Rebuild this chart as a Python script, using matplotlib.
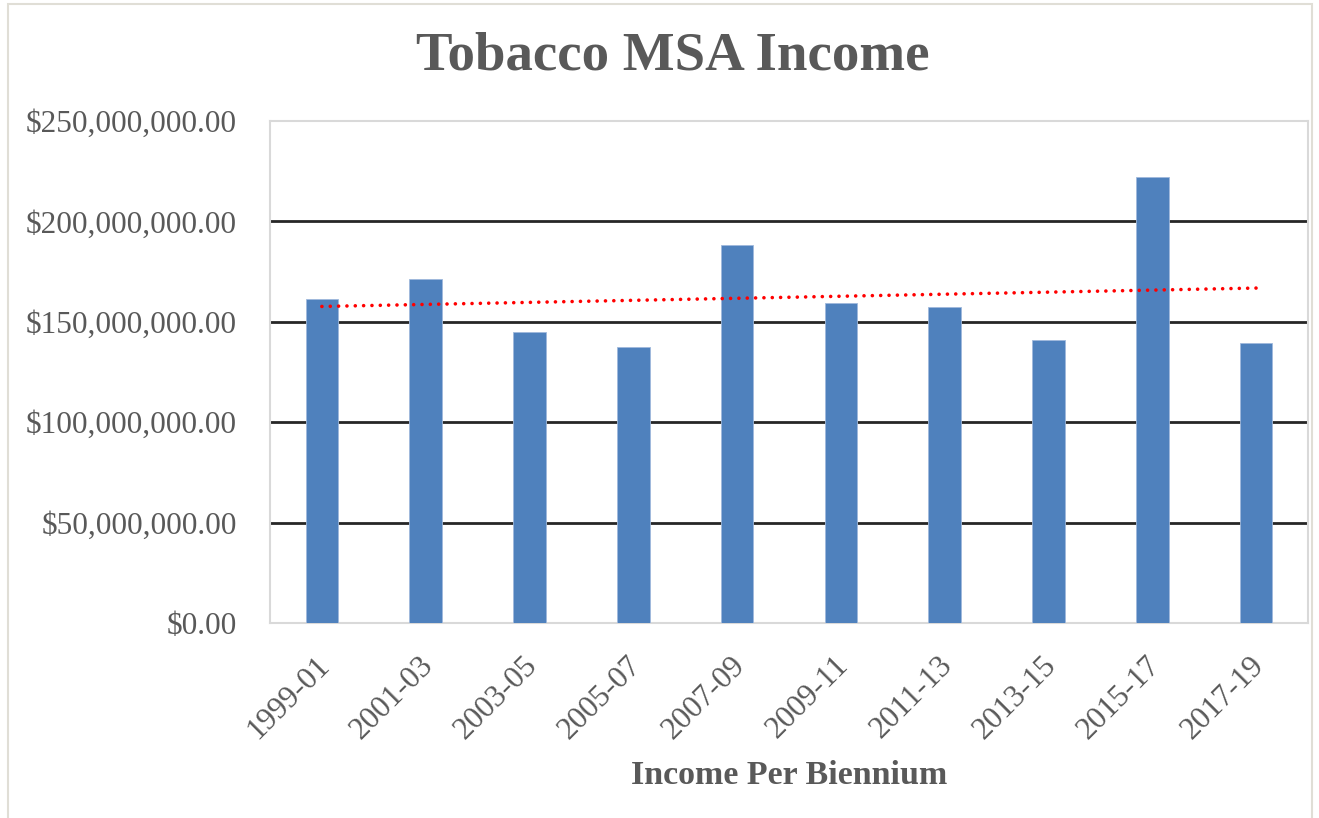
import matplotlib.pyplot as plt
import matplotlib.patches as mpatches
import matplotlib.transforms as mtransforms
import numpy as np

biennia = ["1999-01", "2001-03", "2003-05", "2005-07", "2007-09",
           "2009-11", "2011-13", "2013-15", "2015-17", "2017-19"]
income = [161.4e6, 171.3e6, 144.9e6, 137.3e6, 188.2e6,
          159.4e6, 157.5e6, 140.8e6, 222.1e6, 139.3e6]
y_ticks = [0, 50e6, 100e6, 150e6, 200e6, 250e6]

text_color = "#595959"
plt.rcParams["font.family"] = ["Liberation Serif", "DejaVu Serif"]

fig = plt.figure(figsize=(13.19, 8.18), dpi=100)
ax = fig.add_axes([270 / 1319, 1 - 623 / 818, 1038 / 1319, 502 / 818])

# thin outline of the chart area
fig.patches.append(mpatches.Rectangle((8 / 1319, -0.01), 1304 / 1319, 1 - 4 / 818 + 0.01,
                                      transform=fig.transFigure, fill=False,
                                      edgecolor="#e0ded6", linewidth=1.5))

x = np.arange(len(biennia))
ax.bar(x, income, width=0.315, color="#4f81bd", edgecolor="#9fb9dc", linewidth=0.6, zorder=3)

# linear trend line
slope, intercept = np.polyfit(x, income, 1)
ax.plot(x, slope * x + intercept, color="#ff0000", linewidth=2.6,
        linestyle=(0, (0.01, 2.3)), dash_capstyle="round", zorder=4)

ax.set_xlim(-0.5, len(biennia) - 0.5)
ax.set_ylim(0, 250e6)
ax.set_yticks(y_ticks)
ax.set_yticklabels(["${:,.2f}".format(v) for v in y_ticks])
ax.set_xticks(x)
ax.set_xticklabels(biennia, rotation=45, ha="right", rotation_mode="anchor")
ax.tick_params(axis="both", length=0, labelsize=22.5, colors=text_color)
ax.tick_params(axis="y", pad=24)
ax.tick_params(axis="x", pad=20)
shift = mtransforms.ScaledTranslation(-7 / 100, 0, fig.dpi_scale_trans)
for lbl in ax.get_xticklabels():
    lbl.set_transform(lbl.get_transform() + shift)

for v in y_ticks[1:-1]:
    ax.axhline(v, color="#262626", linewidth=2.0, zorder=1)
for s in ax.spines.values():
    s.set_color("#d9d9d9")
    s.set_linewidth(1.5)

ax.set_xlabel("Income Per Biennium", fontsize=24.5, fontweight="bold", color=text_color, labelpad=11)
fig.text(673 / 1319, 1 - 57 / 818, "Tobacco MSA Income", ha="center", va="center",
         fontsize=39.5, fontweight="bold", color=text_color)

fig.savefig("out.png", dpi=100, facecolor="white")
